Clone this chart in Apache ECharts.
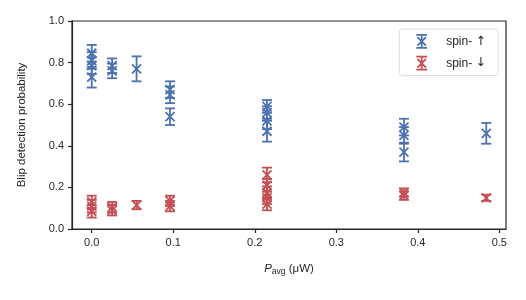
<!DOCTYPE html>
<html>
<head>
<meta charset="utf-8">
<script src="https://cdn.jsdelivr.net/npm/echarts@6/dist/echarts.min.js"></script>
<style>
  html, body { margin: 0; padding: 0; background: #fff; }
  #box { width: 526px; height: 300px; }
</style>
</head>
<body>
<div id="box"></div>
<script>
// spin-up measurements: power (uW), probability, error
var upX   = [0, 0, 0, 0, 0.025, 0.025, 0.055, 0.096, 0.096, 0.096, 0.215, 0.215, 0.215, 0.215, 0.383, 0.383, 0.383, 0.484];
var upY   = [0.845, 0.81, 0.785, 0.73, 0.785, 0.76, 0.77, 0.67, 0.645, 0.54, 0.59, 0.56, 0.52, 0.47, 0.49, 0.45, 0.37, 0.46];
var upErr = [0.04, 0.04, 0.04, 0.05, 0.035, 0.035, 0.06, 0.04, 0.04, 0.04, 0.03, 0.03, 0.04, 0.05, 0.04, 0.04, 0.045, 0.05];

// spin-down measurements
var downX   = [0, 0, 0, 0.025, 0.025, 0.055, 0.096, 0.096, 0.215, 0.215, 0.215, 0.215, 0.215, 0.383, 0.383, 0.484];
var downY   = [0.13, 0.11, 0.085, 0.105, 0.09, 0.115, 0.135, 0.11, 0.26, 0.21, 0.175, 0.15, 0.12, 0.175, 0.16, 0.15];
var downErr = [0.03, 0.03, 0.03, 0.025, 0.025, 0.02, 0.025, 0.025, 0.035, 0.03, 0.03, 0.03, 0.03, 0.02, 0.02, 0.015];

var xTicks = [0, 0.1, 0.2, 0.3, 0.4, 0.5];

var blue = '#4c72b0';
var red = '#c44e52';

function pack(xs, ys, es) {
  return xs.map(function (x, i) { return [x, ys[i], es[i]]; });
}

// error bar with caps plus an "x" marker
function renderErr(params, api) {
  var x = api.value(0), y = api.value(1), e = api.value(2);
  var c = api.coord([x, y]);
  var top = api.coord([x, y + e]);
  var bot = api.coord([x, y - e]);
  var color = api.visual('color');
  var cap = 5, m = 4.5;
  var st = { stroke: color, lineWidth: 1.8 };
  return {
    type: 'group',
    children: [
      { type: 'line', shape: { x1: c[0], y1: top[1], x2: c[0], y2: bot[1] }, style: st },
      { type: 'line', shape: { x1: c[0] - cap, y1: top[1], x2: c[0] + cap, y2: top[1] }, style: st },
      { type: 'line', shape: { x1: c[0] - cap, y1: bot[1], x2: c[0] + cap, y2: bot[1] }, style: st },
      { type: 'line', shape: { x1: c[0] - m, y1: c[1] - m, x2: c[0] + m, y2: c[1] + m }, style: st },
      { type: 'line', shape: { x1: c[0] - m, y1: c[1] + m, x2: c[0] + m, y2: c[1] - m }, style: st }
    ]
  };
}

var legendIcon = 'path://M0,0 L10,0 M5,0 L5,12 M0,12 L10,12 M1,2 L9,10 M1,10 L9,2';

var fontFam = '"Liberation Sans", Arial, "DejaVu Sans", sans-serif';
var ink = '#262626';

var options = {
  animation: false,
  textStyle: { fontFamily: fontFam },
  grid: { left: 72, top: 21, right: 20, bottom: 71, show: true, borderColor: ink, borderWidth: 1.2 },
  legend: {
    right: 28, top: 29,
    orient: 'vertical',
    padding: [5, 12, 5, 16],
    itemGap: 7,
    itemWidth: 11, itemHeight: 13,
    borderColor: '#dcdcdc', borderWidth: 1, borderRadius: 3,
    backgroundColor: '#fff',
    formatter: function (name) {
      var parts = name.split(' ');
      return parts[0] + ' {a|' + parts[1] + '}';
    },
    textStyle: {
      fontSize: 12, color: ink, padding: [0, 0, 0, 14],
      rich: { a: { fontFamily: '"DejaVu Sans", sans-serif', fontSize: 12.5, color: ink } }
    },
    data: [
      { name: 'spin- ↑', icon: legendIcon, itemStyle: { color: 'transparent', borderColor: blue, borderWidth: 1.8 } },
      { name: 'spin- ↓', icon: legendIcon, itemStyle: { color: 'transparent', borderColor: red, borderWidth: 1.8 } }
    ]
  },
  xAxis: {
    type: 'value',
    min: -0.0242, max: 0.5082,
    splitLine: { show: false },
    axisLine: { show: true, onZero: false, lineStyle: { color: ink, width: 1.2 } },
    axisTick: { show: true, length: 4, lineStyle: { color: ink, width: 1.2 }, customValues: xTicks },
    axisLabel: {
      fontSize: 11, color: ink, margin: 8, customValues: xTicks,
      formatter: function (v) { return v.toFixed(1); }
    },
    name: '{i|P}{s|avg} (μW)',
    nameLocation: 'middle', nameGap: 33,
    nameTextStyle: {
      fontSize: 11.5, color: ink,
      rich: {
        i: { fontSize: 11.5, fontStyle: 'italic', color: ink },
        s: { fontSize: 8.5, verticalAlign: 'bottom', padding: [5, 0, 0, 0], color: ink }
      }
    }
  },
  yAxis: {
    type: 'value',
    min: 0, max: 1, interval: 0.2,
    splitLine: { show: false },
    axisLine: { show: true, onZero: false, lineStyle: { color: ink, width: 1.2 } },
    axisTick: { show: true, length: 4, lineStyle: { color: ink, width: 1.2 } },
    axisLabel: {
      fontSize: 11, color: ink, margin: 8,
      formatter: function (v) { return v.toFixed(1); }
    },
    name: 'Blip detection probability',
    nameLocation: 'middle', nameGap: 44,
    nameTextStyle: { fontSize: 11.5, color: ink }
  },
  series: [
    {
      name: 'spin- ↑', type: 'custom', renderItem: renderErr,
      itemStyle: { color: blue }, encode: { x: 0, y: 1 },
      data: pack(upX, upY, upErr)
    },
    {
      name: 'spin- ↓', type: 'custom', renderItem: renderErr,
      itemStyle: { color: red }, encode: { x: 0, y: 1 },
      data: pack(downX, downY, downErr)
    }
  ]
};

var chart = echarts.init(document.getElementById('box'));
chart.setOption(options);
</script>
</body>
</html>
